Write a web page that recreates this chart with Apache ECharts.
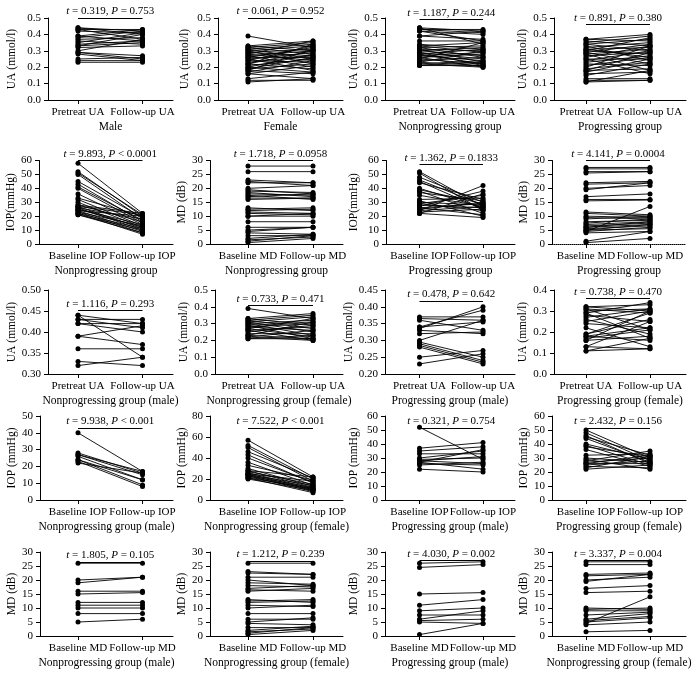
<!DOCTYPE html>
<html><head><meta charset="utf-8">
<script src="https://cdn.jsdelivr.net/npm/echarts@6/dist/echarts.min.js"></script>
<style>html,body{margin:0;padding:0;background:#fff}#c{width:694px;height:683px}</style>
</head><body><div id="c"></div>
<script>
// ---------- DATA: [pretreat/baseline, follow-up] pairs ----------
const maleUA = [[0.44,0.42],[0.44,0.40],[0.43,0.43],[0.43,0.37],[0.42,0.41],[0.39,0.43],[0.39,0.36],[0.38,0.42],[0.37,0.38],[0.36,0.34],[0.35,0.41],[0.34,0.36],[0.33,0.40],[0.33,0.35],[0.32,0.33],[0.30,0.37],[0.29,0.27],[0.29,0.25],[0.28,0.24],[0.25,0.26],[0.24,0.24],[0.23,0.23]];
const femaleUA = [[0.39,0.32],[0.33,0.36],[0.33,0.30],[0.32,0.35],[0.32,0.28],[0.31,0.34],[0.31,0.25],[0.30,0.33],[0.30,0.22],[0.29,0.31],[0.29,0.27],[0.28,0.36],[0.28,0.24],[0.27,0.30],[0.27,0.20],[0.26,0.32],[0.26,0.26],[0.25,0.29],[0.25,0.18],[0.24,0.33],[0.24,0.23],[0.23,0.27],[0.22,0.30],[0.22,0.19],[0.21,0.25],[0.20,0.28],[0.20,0.17],[0.19,0.22],[0.18,0.31],[0.18,0.16],[0.17,0.24],[0.16,0.21],[0.16,0.13],[0.13,0.17],[0.12,0.12],[0.11,0.13],[0.22,0.34],[0.19,0.26]];
const nonprogUA = [[0.44,0.42],[0.44,0.34],[0.43,0.43],[0.43,0.41],[0.42,0.40],[0.42,0.36],[0.39,0.42],[0.39,0.37],[0.36,0.36],[0.34,0.31],[0.33,0.35],[0.33,0.29],[0.32,0.33],[0.32,0.26],[0.31,0.30],[0.31,0.23],[0.30,0.32],[0.30,0.27],[0.29,0.25],[0.29,0.21],[0.28,0.31],[0.28,0.22],[0.27,0.29],[0.27,0.24],[0.26,0.28],[0.26,0.20],[0.25,0.35],[0.25,0.22],[0.24,0.26],[0.23,0.30],[0.23,0.21],[0.22,0.24],[0.22,0.20],[0.21,0.23],[0.21,0.21]];
const progUA = [[0.37,0.36],[0.37,0.40],[0.36,0.33],[0.35,0.39],[0.34,0.30],[0.34,0.37],[0.33,0.24],[0.32,0.35],[0.31,0.32],[0.31,0.26],[0.30,0.38],[0.30,0.28],[0.29,0.34],[0.29,0.22],[0.28,0.31],[0.28,0.18],[0.27,0.29],[0.26,0.33],[0.25,0.25],[0.25,0.16],[0.24,0.30],[0.23,0.27],[0.22,0.21],[0.21,0.26],[0.20,0.33],[0.19,0.23],[0.18,0.29],[0.18,0.19],[0.17,0.25],[0.16,0.17],[0.15,0.22],[0.13,0.13],[0.12,0.12],[0.11,0.18],[0.11,0.12]];
const nonprogIOP = [[58,22],[52,20],[51,21],[50,18],[45,19],[43,16],[41,17],[40,15],[36,14],[33,20],[32,13],[30,12],[28,22],[28,16],[27,21],[27,11],[26,18],[26,10],[25,14],[25,12],[24,20],[24,9],[23,13],[23,8],[22,11],[22,7],[21,10],[21,8]];
const nonprogMD = [[28,28],[26,26],[23,22],[22.5,21],[22,22],[20,21],[19.5,18],[19,18.5],[18.5,17],[18,17.5],[17.5,16],[17,18],[16.5,16.5],[16,16.5],[13,12],[12.5,13],[12,12.5],[11.5,11],[11,10.5],[10,11],[10,10],[8,8],[6,6],[5,6],[4.5,6],[4,3.5],[3,3],[2,3.5],[1.5,2.5],[1,3],[0.5,2]];
const progIOP = [[52,27],[51,24],[48,30],[46,28],[45,25],[44,32],[40,26],[39,29],[38,22],[37,31],[35,27],[32,33],[31,20],[30,28],[29,35],[29,24],[28,26],[27,38],[26,29],[26,21],[25,30],[24,42],[23,25],[22,19],[22,36],[24,27]];
const progMD = [[27.5,27.5],[27,27],[26,26],[25.5,26],[22,22.5],[21.5,22],[20,21],[19.5,22],[17,18],[16,16],[15.5,15.8],[11.5,10.5],[11,10],[10,9.5],[9.5,9],[9,10],[8,8.5],[7.5,9],[7,8],[6.5,7.5],[6,7],[6,8],[5.5,6.5],[5,7],[5,5.5],[4.5,13.5],[4.5,6],[4,4.5],[1,4.5],[0.5,2]];
const nonprogMaleUA = [[0.44,0.34],[0.44,0.42],[0.43,0.43],[0.43,0.41],[0.42,0.40],[0.42,0.42],[0.39,0.415],[0.39,0.37],[0.36,0.36],[0.33,0.32],[0.32,0.34]];
const nonprogFemaleUA = [[0.39,0.33],[0.33,0.36],[0.33,0.29],[0.32,0.35],[0.32,0.27],[0.31,0.34],[0.31,0.25],[0.30,0.32],[0.30,0.23],[0.29,0.31],[0.29,0.21],[0.28,0.30],[0.28,0.26],[0.27,0.33],[0.27,0.22],[0.26,0.28],[0.26,0.20],[0.25,0.29],[0.24,0.24],[0.23,0.31],[0.23,0.21],[0.22,0.26],[0.22,0.20],[0.21,0.23],[0.21,0.21]];
const progMaleUA = [[0.37,0.37],[0.365,0.36],[0.36,0.33],[0.34,0.39],[0.34,0.355],[0.335,0.40],[0.33,0.32],[0.32,0.325],[0.30,0.36],[0.295,0.25],[0.29,0.24],[0.285,0.235],[0.28,0.23],[0.25,0.27],[0.23,0.26]];
const progFemaleUA = [[0.32,0.30],[0.32,0.33],[0.31,0.29],[0.31,0.21],[0.30,0.31],[0.29,0.34],[0.29,0.17],[0.28,0.25],[0.27,0.31],[0.26,0.19],[0.25,0.30],[0.24,0.22],[0.22,0.13],[0.19,0.29],[0.19,0.26],[0.18,0.16],[0.18,0.22],[0.17,0.21],[0.16,0.30],[0.16,0.18],[0.13,0.25],[0.13,0.12],[0.11,0.17],[0.11,0.12]];
const nonprogMaleIOP = [[40,17],[28,16],[27,17],[27,15],[26,12],[24,9],[23,8],[22,16],[24,12]];
const nonprogFemaleIOP = [[57,22],[52,20],[50,18],[46,21],[43,16],[40,17],[36,14],[33,19],[30,13],[28,22],[28,12],[27,15],[26,11],[25,18],[25,10],[24,14],[24,9],[23,12],[23,8],[22,10],[21,7],[21,11],[20,9]];
const progMaleIOP = [[52,29],[37,41],[35,38],[33,33],[30,35],[29,30],[28,26],[28,31],[27,22],[26,25],[25,27],[22,20],[27,36]];
const progFemaleIOP = [[50,30],[48,28],[46,26],[45,32],[44,27],[40,29],[39,25],[38,31],[36,24],[32,33],[30,27],[29,22],[28,35],[27,30],[26,26],[25,28],[24,23],[23,31],[22,25],[26,32]];
const nonprogMaleMD = [[26,26],[20,21],[19,21],[16,16],[15,15.5],[12,12],[11,11],[10,10],[8,8],[5,6]];
const nonprogFemaleMD = [[26,26],[23,22],[22.5,22],[21,21],[20,18],[19,18.5],[18,17.5],[17,18],[16.5,16],[16,17],[13,12],[12.5,13],[12,12.5],[11,10.5],[10,11],[8,8],[6,6],[5,6.5],[4.5,4],[3,3],[2,3.5],[1.5,2.5],[1,3],[0.5,2]];
const progMaleMD = [[26,26.5],[24.5,25.5],[15,15.5],[11,13],[9,10],[7.5,7.5],[6,9],[5.5,6],[5,4.5],[0.5,4.5]];
const progFemaleMD = [[26.5,26.5],[25.5,25.5],[22,22.5],[21.5,22],[20,21],[19.5,22],[17,18],[15.5,16],[10,9.5],[9.5,10],[9,9],[7.5,8.5],[6,8],[5.5,7],[5,6.5],[4.5,14],[4,5],[1.5,2]];

// tick labels
const uaLabels = ['Pretreat UA','Follow-up UA'];
const iopLabels = ['Baseline IOP','Follow-up IOP'];
const mdLabels = ['Baseline MD','Follow-up MD'];

// statistics text [t, relation, P]
const stats = [['0.319','=','0.753'],['0.061','=','0.952'],['1.187','=','0.244'],['0.891','=','0.380'],
  ['9.893','<','0.0001'],['1.718','=','0.0958'],['1.362','=','0.1833'],['4.141','=','0.0004'],
  ['1.116','=','0.293'],['0.733','=','0.471'],['0.478','=','0.642'],['0.738','=','0.470'],
  ['9.938','<','0.001'],['7.522','<','0.001'],['0.321','=','0.754'],['2.432','=','0.156'],
  ['1.805','=','0.105'],['1.212','=','0.239'],['4.030','=','0.002'],['3.337','=','0.004']];
const bracketY = [0.5,0.5,0.49,0.46, 60,30,57,30, 0.452,0.41,0.417,0.36, 43,68.5,51.4,51.4, 26.5,26.8,27,27];

const groups = ['Male','Female','Nonprogressing group','Progressing group',
  'Nonprogressing group','Nonprogressing group','Progressing group','Progressing group',
  'Nonprogressing group (male)','Nonprogressing group (female)','Progressing group (male)','Progressing group (female)',
  'Nonprogressing group (male)','Nonprogressing group (female)','Progressing group (male)','Progressing group (female)',
  'Nonprogressing group (male)','Nonprogressing group (female)','Progressing group (male)','Nonprogressing group (female)'];

const panelData = [maleUA,femaleUA,nonprogUA,progUA, nonprogIOP,nonprogMD,progIOP,progMD,
  nonprogMaleUA,nonprogFemaleUA,progMaleUA,progFemaleUA, nonprogMaleIOP,nonprogFemaleIOP,progMaleIOP,progFemaleIOP,
  nonprogMaleMD,nonprogFemaleMD,progMaleMD,progFemaleMD];
const xLabels = [uaLabels,uaLabels,uaLabels,uaLabels, iopLabels,mdLabels,iopLabels,mdLabels,
  uaLabels,uaLabels,uaLabels,uaLabels, iopLabels,iopLabels,iopLabels,iopLabels, mdLabels,mdLabels,mdLabels,mdLabels];
const yNames = ['UA (mmol/l)','UA (mmol/l)','UA (mmol/l)','UA (mmol/l)',
  'IOP(mmHg)','MD (dB)','IOP(mmHg)','MD (dB)',
  'UA (mmol/l)','UA (mmol/l)','UA (mmol/l)','UA (mmol/l)',
  'IOP (mmHg)','IOP (mmHg)','IOP (mmHg)','IOP (mmHg)',
  'MD (dB)','MD (dB)','MD (dB)','MD (dB)'];
// y scale [min, max, step, decimals]
const yScales = [[0,0.5,0.1,1],[0,0.5,0.1,1],[0,0.5,0.1,1],[0,0.5,0.1,1],
  [0,60,10,0],[0,30,5,0],[0,60,10,0],[0,30,5,0],
  [0.30,0.50,0.05,2],[0,0.5,0.1,1],[0.20,0.45,0.05,2],[0,0.4,0.1,1],
  [0,50,10,0],[0,80,20,0],[0,60,10,0],[0,60,10,0],
  [0,30,5,0],[0,30,5,0],[0,30,5,0],[0,30,5,0]];

// ---------- LAYOUT ----------
const FONT = "'Liberation Serif','Times New Roman',serif";
const rowTop = [18, 160.5, 290, 416, 552];
const rowBot = [100, 244, 374, 500, 636];
const colP = [[78,142.5],[248,313],[419.5,483],[586,650]];
const colR = [173,343,515,686];
const axisL = [[48,218,385,554],[39,210,386,552],[48,215,385,554],[40,210,385,552],[40,210,385,552]];
const nameX = [12,185,354,524];

const grids=[], xAxes=[], yAxes=[], series=[];
const txt = {color:'#000', fontFamily:FONT, fontSize:11};
panelData.forEach((pairs,i)=>{
  const r=Math.floor(i/4), c=i%4;
  const L=axisL[r][c], R=colR[c], T=rowTop[r], B=rowBot[r];
  const [p0,p1]=colP[c];
  const s=p1-p0;
  const xmin=-(p0-L)/s, xmax=1+(R-p1)/s;
  const lab = xLabels[i];
  const ys = yScales[i];
  grids.push({left:L, top:T, width:R-L, height:B-T, containLabel:false, outerBoundsMode:'none'});
  xAxes.push({type:'value', gridIndex:i, min:xmin, max:xmax, splitLine:{show:false},
    axisLine:{onZero:false, lineStyle:{color:'#000', width:1, type:(i===7?'dotted':'solid')}},
    axisTick:{show:true, customValues:[0,1], length:4, lineStyle:{color:'#000'}},
    axisLabel:Object.assign({customValues:[0,1], margin:7, formatter:v=>(v<0.5?lab[0]:lab[1])}, txt),
    name:groups[i], nameLocation:'middle', nameGap:21, nameTextStyle:Object.assign({}, txt, {fontSize:11.5})});
  yAxes.push({type:'value', gridIndex:i, min:ys[0], max:ys[1], interval:ys[2], splitLine:{show:false},
    axisLine:{show:true, onZero:false, lineStyle:{color:'#000', width:1}},
    axisTick:{show:true, length:4, lineStyle:{color:'#000'}},
    axisLabel:Object.assign({margin:7, formatter:v=>v.toFixed(ys[3])}, txt),
    name:yNames[i], nameLocation:'middle', nameGap:L-6-nameX[c], nameTextStyle:Object.assign({}, txt, {fontSize:11.5})});
  const data=[];
  pairs.forEach(p=>{ data.push([0,p[0]]); data.push([1,p[1]]); data.push([0,'-']); });
  const st = stats[i];
  series.push({type:'line', xAxisIndex:i, yAxisIndex:i, data, clip:false, connectNulls:false,
    symbol:'circle', symbolSize:5, showSymbol:true,
    lineStyle:{color:'#000', width:0.9}, itemStyle:{color:'#000', borderWidth:0},
    emphasis:{disabled:true}, silent:true, animation:false,
    markLine:{silent:true, symbol:['none','none'], animation:false,
      lineStyle:{color:'#000', width:1, type:'solid'},
      label:{show:true, position:'insideMiddleTop', distance:1, color:'#000', fontFamily:FONT, fontSize:11,
        formatter:'{i|t} = '+st[0]+', {i|P} '+st[1]+' '+st[2],
        rich:{i:{fontStyle:'italic', fontFamily:FONT, fontSize:11, color:'#000'}}},
      emphasis:{disabled:true},
      data:[[{coord:[0,bracketY[i]]},{coord:[1,bracketY[i]]}]]}});
});

const chart = echarts.init(document.getElementById('c'), null, {renderer:'canvas'});
chart.setOption({animation:false, backgroundColor:'#fff', grid:grids, xAxis:xAxes, yAxis:yAxes, series});
</script>
</body></html>
